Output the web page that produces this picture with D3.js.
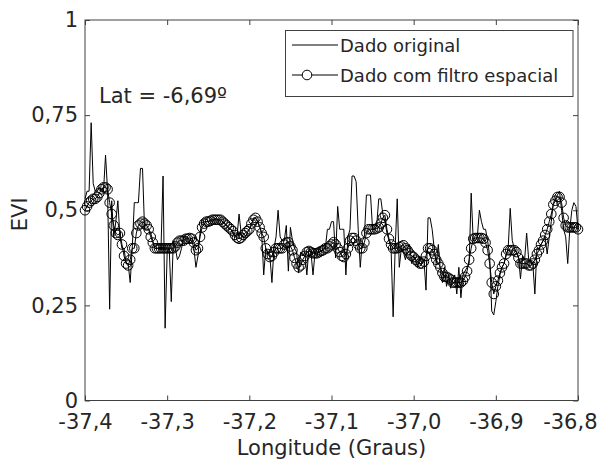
<!DOCTYPE html>
<html><head><meta charset="utf-8">
<script src="https://cdn.jsdelivr.net/npm/d3@7"></script>
<style>body{margin:0;background:#fff}svg{display:block}</style>
</head><body>
<svg id="c" width="598" height="464"></svg>
<script>
// Longitude grid (step 0.0025 deg, 241 samples from -37.4 to -36.8)
const lonStart = -37.4, lonStep = 0.0025;
const evi_original = [
0.53,0.55,0.55,0.73,0.57,0.55,0.55,0.56,0.55,0.55,
0.645,0.55,0.24,0.525,0.43,0.47,0.525,0.43,0.40,0.40,
0.36,0.36,0.31,0.40,0.52,0.52,0.52,0.61,0.61,0.45,
0.45,0.45,0.44,0.42,0.40,0.40,0.40,0.40,0.59,0.19,
0.39,0.40,0.26,0.42,0.40,0.37,0.38,0.40,0.43,0.43,
0.43,0.42,0.42,0.40,0.35,0.38,0.44,0.475,0.47,0.47,
0.47,0.475,0.47,0.475,0.48,0.47,0.475,0.47,0.465,0.46,
0.45,0.45,0.44,0.43,0.43,0.49,0.44,0.43,0.43,0.44,
0.45,0.46,0.48,0.48,0.47,0.46,0.44,0.33,0.40,0.39,
0.38,0.31,0.40,0.43,0.50,0.43,0.42,0.42,0.46,0.34,
0.455,0.42,0.40,0.39,0.335,0.39,0.38,0.39,0.33,0.40,
0.39,0.33,0.39,0.38,0.40,0.39,0.40,0.40,0.45,0.45,
0.47,0.47,0.375,0.51,0.45,0.45,0.45,0.33,0.43,0.45,
0.59,0.59,0.575,0.45,0.35,0.42,0.43,0.54,0.54,0.54,
0.45,0.45,0.46,0.53,0.53,0.49,0.47,0.44,0.42,0.40,
0.22,0.40,0.53,0.35,0.40,0.39,0.37,0.40,0.41,0.36,
0.38,0.37,0.35,0.38,0.36,0.37,0.29,0.48,0.48,0.45,
0.40,0.36,0.41,0.34,0.31,0.35,0.30,0.33,0.295,0.32,
0.33,0.28,0.35,0.27,0.33,0.34,0.35,0.36,0.545,0.42,
0.42,0.43,0.50,0.47,0.45,0.45,0.42,0.38,0.235,0.225,
0.26,0.30,0.33,0.35,0.36,0.38,0.40,0.505,0.42,0.40,
0.39,0.38,0.32,0.38,0.37,0.44,0.37,0.36,0.36,0.28,
0.40,0.40,0.41,0.42,0.43,0.385,0.43,0.47,0.52,0.53,
0.54,0.55,0.50,0.45,0.43,0.36,0.45,0.50,0.52,0.51,
0.45];
const evi_filtered = [
0.50,0.51,0.52,0.525,0.53,0.53,0.535,0.545,0.555,0.56,
0.56,0.555,0.52,0.49,0.46,0.44,0.435,0.44,0.41,0.38,
0.36,0.355,0.37,0.40,0.40,0.44,0.46,0.465,0.47,0.465,
0.46,0.45,0.43,0.415,0.40,0.40,0.40,0.40,0.40,0.40,
0.40,0.40,0.40,0.40,0.405,0.415,0.42,0.42,0.42,0.425,
0.425,0.427,0.425,0.415,0.395,0.40,0.43,0.455,0.465,0.47,
0.47,0.472,0.475,0.475,0.475,0.475,0.475,0.47,0.465,0.46,
0.455,0.45,0.445,0.435,0.428,0.425,0.428,0.435,0.44,0.445,
0.45,0.465,0.475,0.48,0.47,0.455,0.44,0.43,0.40,0.385,
0.377,0.38,0.39,0.40,0.40,0.40,0.40,0.41,0.415,0.416,
0.405,0.395,0.375,0.36,0.35,0.355,0.37,0.38,0.39,0.393,
0.39,0.387,0.387,0.387,0.39,0.393,0.395,0.40,0.40,0.405,
0.41,0.416,0.41,0.40,0.39,0.38,0.377,0.385,0.40,0.42,
0.427,0.427,0.42,0.41,0.40,0.40,0.415,0.44,0.45,0.45,
0.45,0.45,0.452,0.455,0.465,0.48,0.487,0.45,0.425,0.41,
0.40,0.40,0.40,0.403,0.405,0.408,0.40,0.395,0.387,0.38,
0.377,0.37,0.365,0.36,0.36,0.365,0.38,0.40,0.40,0.395,
0.385,0.37,0.36,0.35,0.335,0.325,0.325,0.322,0.318,0.31,
0.31,0.31,0.31,0.31,0.315,0.325,0.34,0.37,0.40,0.425,
0.427,0.427,0.427,0.427,0.425,0.415,0.395,0.36,0.31,0.28,
0.30,0.315,0.335,0.35,0.36,0.385,0.395,0.395,0.395,0.395,
0.39,0.375,0.36,0.36,0.36,0.36,0.355,0.355,0.36,0.37,
0.385,0.395,0.41,0.42,0.435,0.45,0.47,0.49,0.515,0.525,
0.535,0.535,0.52,0.48,0.46,0.455,0.455,0.455,0.455,0.455,
0.45];
const xTicks = [-37.4,-37.3,-37.2,-37.1,-37.0,-36.9,-36.8];
const xTickLabels = ["-37,4","-37,3","-37,2","-37,1","-37,0","-36,9","-36,8"];
const yTicks = [0,0.25,0.5,0.75,1];
const yTickLabels = ["0","0,25","0,5","0,75","1"];
const seriesNames = ["Dado original","Dado com filtro espacial"];
const annotation = "Lat = -6,69º";

const lon = evi_original.map((_, i) => lonStart + i * lonStep);

const svg = d3.select("#c");
const L = 85, R = 578, T = 20, B = 400.5;
const x = d3.scaleLinear().domain([-37.4, -36.8]).range([L, R]);
const y = d3.scaleLinear().domain([0, 1]).range([B, T]);
const font = "'DejaVu Sans', Verdana, sans-serif";
const txt = "#262626", axc = "#404040";

// frame
svg.append("rect").attr("x", L).attr("y", T).attr("width", R - L).attr("height", B - T)
  .attr("fill", "none").attr("stroke", axc).attr("stroke-width", 1);

function styleAxis(g, showLabels) {
  g.select(".domain").remove();
  g.selectAll(".tick line").attr("stroke", axc);
  g.selectAll(".tick text").attr("fill", txt).style("font-family", font).style("font-size", "21px");
  if (!showLabels) g.selectAll(".tick text").remove();
}
const xb = svg.append("g").attr("transform", `translate(0,${B})`)
  .call(d3.axisBottom(x).tickValues(xTicks).tickSize(-5)
    .tickFormat((d, i) => xTickLabels[i]));
styleAxis(xb, true);
xb.selectAll(".tick text").attr("dy", "0.71em").attr("y", 14);
// keep the last label inside the picture, as in the reference
xb.selectAll(".tick text").filter((d, i) => i === xTicks.length - 1)
  .attr("text-anchor", "end").attr("x", 597 - R);
const xt = svg.append("g").attr("transform", `translate(0,${T})`)
  .call(d3.axisTop(x).tickValues(xTicks).tickSize(-5));
styleAxis(xt, false);
const yl = svg.append("g").attr("transform", `translate(${L},0)`)
  .call(d3.axisLeft(y).tickValues(yTicks).tickSize(-5).tickPadding(7)
    .tickFormat((d, i) => yTickLabels[i]));
styleAxis(yl, true);
const yr = svg.append("g").attr("transform", `translate(${R},0)`)
  .call(d3.axisRight(y).tickValues(yTicks).tickSize(-5));
styleAxis(yr, false);

// data
const line = d3.line().x(d => x(d[0])).y(d => y(d[1]));
const orig = lon.map((l, i) => [l, evi_original[i]]);
const filt = lon.map((l, i) => [l, evi_filtered[i]]);
svg.append("path").datum(orig).attr("d", line).attr("fill", "none")
  .attr("stroke", "#000").attr("stroke-width", 1);
svg.append("path").datum(filt).attr("d", line).attr("fill", "none")
  .attr("stroke", "#000").attr("stroke-width", 1);
svg.append("g").selectAll("circle").data(filt).join("circle")
  .attr("cx", d => x(d[0])).attr("cy", d => y(d[1])).attr("r", 4.8)
  .attr("fill", "none").attr("stroke", "#000").attr("stroke-width", 1);

// axis labels
svg.append("text").attr("x", (L + R) / 2).attr("y", 455).attr("text-anchor", "middle")
  .attr("fill", txt).style("font-family", font).style("font-size", "21px").text("Longitude (Graus)");
svg.append("text").attr("transform", `translate(27,${(T + B) / 2 + 4}) rotate(-90)`)
  .attr("text-anchor", "middle").attr("fill", txt).style("font-family", font)
  .style("font-size", "21px").text("EVI");

// annotation
svg.append("text").attr("x", 99).attr("y", 103).attr("fill", txt)
  .style("font-family", font).style("font-size", "21px").text(annotation);

// legend
const lg = svg.append("g");
lg.append("rect").attr("x", 285.5).attr("y", 30.5).attr("width", 287.5).attr("height", 66)
  .attr("fill", "#fff").attr("stroke", axc).attr("stroke-width", 1);
const rows = [45, 75];
rows.forEach((ry, i) => {
  lg.append("line").attr("x1", 292).attr("x2", 338).attr("y1", ry).attr("y2", ry)
    .attr("stroke", "#000").attr("stroke-width", 1);
  if (i === 1) lg.append("circle").attr("cx", 307).attr("cy", ry).attr("r", 4.8)
    .attr("fill", "#fff").attr("stroke", "#000").attr("stroke-width", 1);
  lg.append("text").attr("x", 340).attr("y", ry + 7).attr("fill", txt)
    .style("font-family", font).style("font-size", "18px").text(seriesNames[i]);
});
</script>
</body></html>
